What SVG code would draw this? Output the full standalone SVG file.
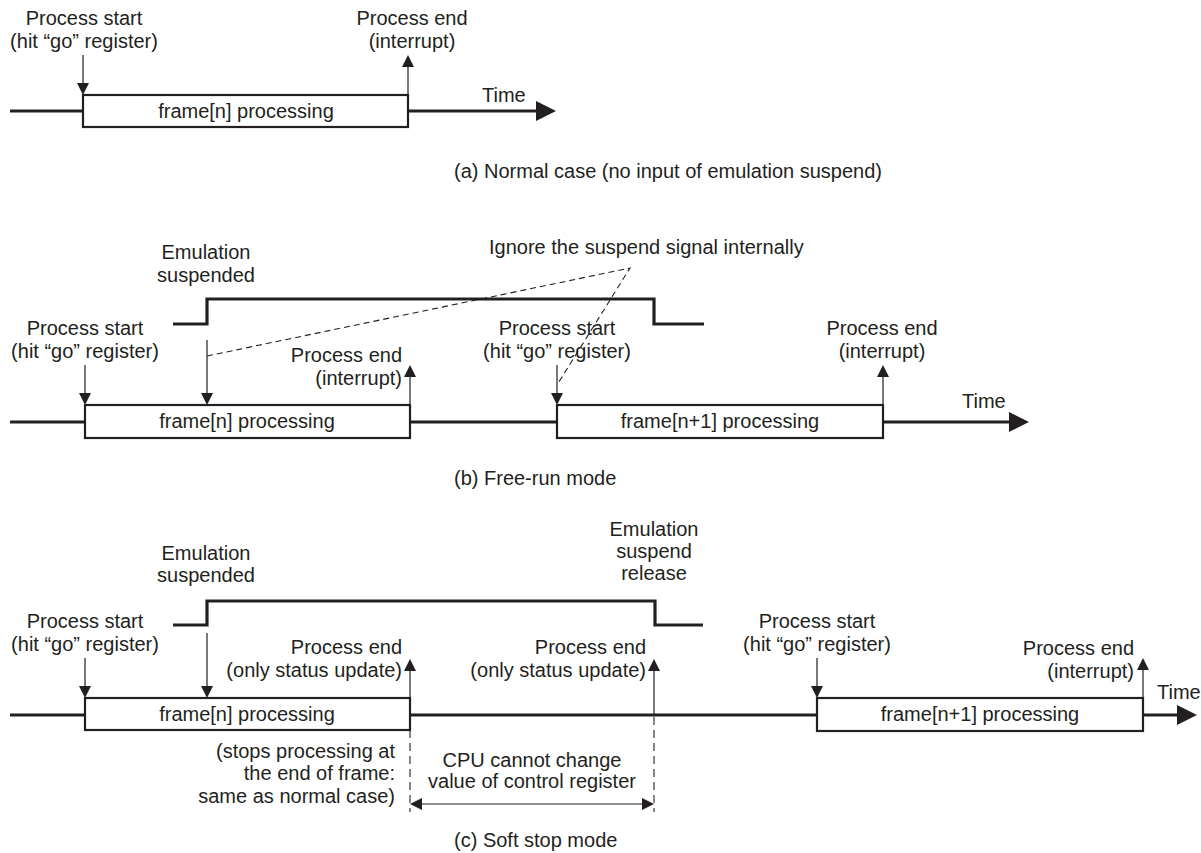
<svg xmlns="http://www.w3.org/2000/svg" width="1201" height="853" viewBox="0 0 1201 853">
<style>
text{font-family:"Liberation Sans",Arial,Helvetica,sans-serif;font-size:20px;fill:#231f20}
.c{text-anchor:middle}
.r{text-anchor:end}
.box{fill:#fff;stroke:#231f20;stroke-width:2.2}
.tl{fill:none;stroke:#231f20;stroke-width:3.2}
.sig{fill:none;stroke:#231f20;stroke-width:3.2;stroke-linejoin:miter}
.thin{fill:none;stroke:#231f20;stroke-width:1.2}
.dash{fill:none;stroke:#231f20;stroke-width:1.1;stroke-dasharray:6 4}
.vdash{fill:none;stroke:#231f20;stroke-width:1.1;stroke-dasharray:8 5}
</style>
<defs>
<marker id="ah" viewBox="0 0 12 12" refX="0" refY="6" markerWidth="12" markerHeight="12" markerUnits="userSpaceOnUse" orient="auto-start-reverse">
<path d="M0,0 L12,6 L0,12 z" fill="#231f20"/>
</marker>
<marker id="tah" viewBox="0 0 20 20" refX="0" refY="10" markerWidth="20" markerHeight="20" markerUnits="userSpaceOnUse" orient="auto">
<path d="M0,0 L20,10 L0,20 z" fill="#231f20"/>
</marker>
</defs>

<!-- (a) Normal case -->
<g id="a-timeline" class="connectors">
<line class="tl" x1="10" y1="111" x2="83" y2="111"/>
<line class="tl" x1="408" y1="111" x2="536" y2="111" marker-end="url(#tah)"/>
</g>
<g id="a-frame">
<rect class="box" x="83" y="95" width="325" height="32"/>
<text class="c" x="246" y="118">frame[n] processing</text>
</g>
<g id="a-start">
<text class="c" x="84" y="25">Process start</text>
<text class="c" x="84" y="48">(hit “go” register)</text>
</g>
<g id="a-end">
<text class="c" x="412" y="25">Process end</text>
<text class="c" x="412" y="48">(interrupt)</text>
</g>
<g id="a-time"><text x="482" y="102">Time</text></g>
<g id="a-arrows" class="connectors">
<line class="thin" x1="83" y1="55" x2="83" y2="83" marker-end="url(#ah)"/>
<line class="thin" x1="408" y1="95" x2="408" y2="67" marker-end="url(#ah)"/>
</g>
<g id="a-caption"><text x="454" y="178">(a) Normal case (no input of emulation suspend)</text></g>

<!-- (b) Free-run mode -->
<g id="b-signal">
<path class="sig" d="M173,324 H207 V299 H654 V324 H704"/>
<text class="c" x="206" y="259">Emulation</text>
<text class="c" x="206" y="282">suspended</text>
</g>
<g id="b-ignore"><text x="489" y="254">Ignore the suspend signal internally</text></g>
<g id="b-timeline" class="connectors">
<line class="tl" x1="10" y1="422" x2="85" y2="422"/>
<line class="tl" x1="410" y1="422" x2="557" y2="422"/>
<line class="tl" x1="883" y1="422" x2="1009" y2="422" marker-end="url(#tah)"/>
</g>
<g id="b-frame-n">
<rect class="box" x="85" y="405" width="325" height="33"/>
<text class="c" x="247" y="428">frame[n] processing</text>
</g>
<g id="b-frame-n1">
<rect class="box" x="557" y="405" width="326" height="33"/>
<text class="c" x="720" y="428">frame[n+1] processing</text>
</g>
<g id="b-start1">
<text class="c" x="85" y="335">Process start</text>
<text class="c" x="85" y="358">(hit “go” register)</text>
</g>
<g id="b-end1">
<text class="r" x="402" y="362">Process end</text>
<text class="r" x="402" y="385">(interrupt)</text>
</g>
<g id="b-start2">
<text class="c" x="557" y="335">Process start</text>
<text class="c" x="557" y="358">(hit “go” register)</text>
</g>
<g id="b-end2">
<text class="c" x="882" y="335">Process end</text>
<text class="c" x="882" y="358">(interrupt)</text>
</g>
<g id="b-time"><text x="962" y="408">Time</text></g>
<g id="b-arrows" class="connectors">
<line class="thin" x1="85" y1="365" x2="85" y2="393" marker-end="url(#ah)"/>
<line class="thin" x1="207" y1="340" x2="207" y2="393" marker-end="url(#ah)"/>
<line class="thin" x1="410" y1="405" x2="410" y2="377" marker-end="url(#ah)"/>
<line class="thin" x1="557" y1="365" x2="557" y2="393" marker-end="url(#ah)"/>
<line class="thin" x1="883" y1="405" x2="883" y2="377" marker-end="url(#ah)"/>
<polyline class="dash" points="207,356 630,268 557,385"/>
</g>
<g id="b-caption"><text x="454" y="485">(b) Free-run mode</text></g>

<!-- (c) Soft stop mode -->
<g id="c-signal">
<path class="sig" d="M173,625 H207 V601 H655 V625 H703"/>
<text class="c" x="206" y="560">Emulation</text>
<text class="c" x="206" y="582">suspended</text>
<text class="c" x="654" y="536">Emulation</text>
<text class="c" x="654" y="558">suspend</text>
<text class="c" x="654" y="580">release</text>
</g>
<g id="c-timeline" class="connectors">
<line class="tl" x1="10" y1="715" x2="85" y2="715"/>
<line class="tl" x1="410" y1="715" x2="817" y2="715"/>
<line class="tl" x1="1143" y1="715" x2="1177" y2="715" marker-end="url(#tah)"/>
</g>
<g id="c-frame-n">
<rect class="box" x="85" y="698" width="325" height="32"/>
<text class="c" x="247" y="721">frame[n] processing</text>
</g>
<g id="c-frame-n1">
<rect class="box" x="817" y="698" width="326" height="33"/>
<text class="c" x="980" y="721">frame[n+1] processing</text>
</g>
<g id="c-start1">
<text class="c" x="85" y="628">Process start</text>
<text class="c" x="85" y="651">(hit “go” register)</text>
</g>
<g id="c-end1">
<text class="r" x="402" y="654">Process end</text>
<text class="r" x="402" y="677">(only status update)</text>
</g>
<g id="c-end2">
<text class="r" x="646" y="654">Process end</text>
<text class="r" x="646" y="677">(only status update)</text>
</g>
<g id="c-start2">
<text class="c" x="817" y="628">Process start</text>
<text class="c" x="817" y="651">(hit “go” register)</text>
</g>
<g id="c-end3">
<text class="r" x="1134" y="655">Process end</text>
<text class="r" x="1134" y="678">(interrupt)</text>
</g>
<g id="c-time"><text x="1157" y="699">Time</text></g>
<g id="c-stops">
<text class="r" x="395" y="758">(stops processing at</text>
<text class="r" x="395" y="780">the end of frame:</text>
<text class="r" x="395" y="803">same as normal case)</text>
</g>
<g id="c-cpu">
<text class="c" x="532" y="767">CPU cannot change</text>
<text class="c" x="532" y="788">value of control register</text>
</g>
<g id="c-arrows" class="connectors">
<line class="thin" x1="85" y1="658" x2="85" y2="686" marker-end="url(#ah)"/>
<line class="thin" x1="207" y1="633" x2="207" y2="686" marker-end="url(#ah)"/>
<line class="thin" x1="410" y1="698" x2="410" y2="671" marker-end="url(#ah)"/>
<line class="thin" x1="654" y1="715" x2="654" y2="671" marker-end="url(#ah)"/>
<line class="thin" x1="817" y1="658" x2="817" y2="686" marker-end="url(#ah)"/>
<line class="thin" x1="1143" y1="698" x2="1143" y2="670" marker-end="url(#ah)"/>
<line class="vdash" x1="410" y1="730" x2="410" y2="812"/>
<line class="vdash" x1="654" y1="717" x2="654" y2="812"/>
<line class="thin" x1="422" y1="804" x2="642" y2="804" marker-start="url(#ah)" marker-end="url(#ah)"/>
</g>
<g id="c-caption"><text x="454" y="847">(c) Soft stop mode</text></g>
</svg>
